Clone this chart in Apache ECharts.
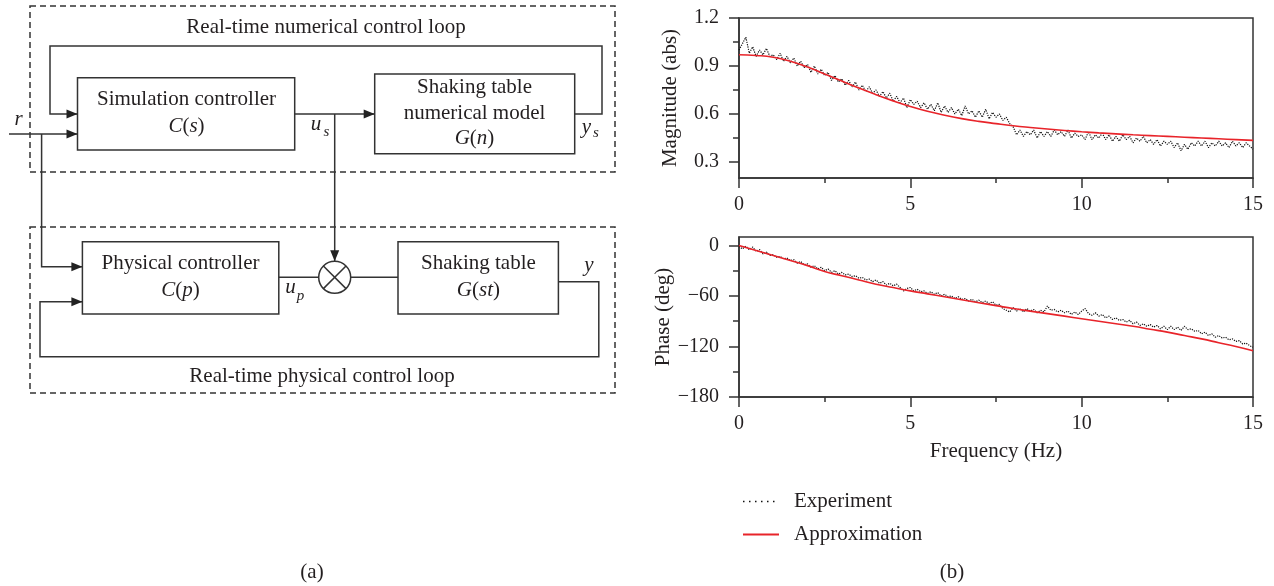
<!DOCTYPE html>
<html>
<head>
<meta charset="utf-8">
<script src="https://cdn.jsdelivr.net/npm/echarts@6/dist/echarts.min.js"></script>
<style>
html,body{margin:0;padding:0;background:#fff;}
#chart{width:1274px;height:586px;}
</style>
</head>
<body>
<div id="chart"></div>
<script>
// ---------------- DATA ----------------
const seriesNames = ['Experiment', 'Approximation'];
const xTickLabels = [0, 5, 10, 15];
const magTickLabels = [0.3, 0.6, 0.9, 1.2];
const magMinorTicks = [0.45, 0.75, 1.05];
const phaseTickLabels = [-180, -120, -60, 0];
const phaseMinorTicks = [-150, -90, -30];

// Experiment sampled every 0.1 Hz from 0 to 15 Hz
const expStep = 0.1;
const magExperiment = [
 1.00,1.04,1.08,0.98,1.02,0.96,1.00,0.97,1.01,0.96,
 0.97,0.94,0.98,0.93,0.96,0.92,0.95,0.90,0.93,0.89,
 0.91,0.86,0.90,0.85,0.88,0.84,0.86,0.81,0.84,0.80,
 0.82,0.78,0.81,0.77,0.80,0.75,0.78,0.74,0.77,0.73,
 0.75,0.71,0.74,0.70,0.73,0.68,0.71,0.67,0.70,0.64,
 0.69,0.66,0.68,0.64,0.67,0.63,0.66,0.62,0.67,0.61,
 0.65,0.61,0.64,0.60,0.63,0.59,0.65,0.60,0.62,0.58,
 0.62,0.58,0.63,0.57,0.61,0.58,0.60,0.56,0.58,0.54,
 0.52,0.47,0.50,0.46,0.49,0.47,0.50,0.45,0.49,0.46,
 0.49,0.46,0.50,0.47,0.49,0.46,0.50,0.45,0.48,0.46,
 0.47,0.44,0.49,0.44,0.47,0.45,0.48,0.44,0.47,0.43,
 0.46,0.43,0.47,0.44,0.46,0.42,0.45,0.43,0.46,0.42,
 0.44,0.41,0.44,0.40,0.43,0.41,0.43,0.39,0.42,0.37,
 0.41,0.38,0.42,0.40,0.43,0.40,0.43,0.39,0.42,0.40,
 0.43,0.40,0.42,0.39,0.43,0.40,0.42,0.39,0.42,0.40,
 0.38
];
const phaseExperiment = [
 -1,-4,-1,-5,-2,-7,-5,-10,-8,-12,
 -11,-14,-13,-16,-15,-18,-17,-21,-19,-23,
 -22,-26,-24,-28,-26,-30,-28,-32,-30,-34,
 -32,-35,-34,-37,-36,-39,-38,-41,-40,-43,
 -41,-45,-43,-47,-45,-48,-46,-50,-54,-51,
 -50,-54,-52,-55,-54,-57,-55,-58,-56,-60,
 -58,-61,-60,-63,-61,-64,-63,-66,-64,-67,
 -65,-68,-66,-69,-67,-71,-70,-75,-77,-79,
 -74,-78,-75,-79,-75,-78,-76,-80,-77,-79,
 -72,-77,-76,-79,-77,-80,-78,-82,-79,-82,
 -78,-75,-81,-83,-80,-84,-82,-86,-84,-88,
 -86,-89,-88,-91,-89,-93,-91,-95,-93,-96,
 -94,-97,-95,-99,-96,-100,-96,-100,-97,-101,
 -96,-100,-99,-102,-101,-105,-103,-107,-105,-109,
 -107,-110,-109,-112,-111,-114,-113,-117,-116,-119,
 -121
];

// Approximation sampled every 0.5 Hz from 0 to 15 Hz
const apxStep = 0.5;
const magApprox = [
 0.970,0.966,0.955,0.930,0.893,0.850,0.806,0.762,0.721,0.682,
 0.647,0.617,0.592,0.571,0.554,0.540,0.527,0.516,0.506,0.497,
 0.489,0.482,0.476,0.470,0.465,0.460,0.455,0.450,0.445,0.440,
 0.435
];
const phaseApprox = [
 0,-6,-12,-18,-24,-31,-36,-41,-46,-50,
 -54,-57.5,-61,-64.5,-68,-71.5,-75,-78,-81,-84,
 -87,-90,-93,-96,-99.5,-103,-107,-111,-115.5,-120,
 -125
];

// ---------------- BUILD ----------------
const FONT = '"Liberation Serif", "Times New Roman", serif';
const TXT = '#231f20';
const LN = '#333';
const RED = '#e8242a';

function pairs(vals, step) {
  return vals.map((v, i) => [Math.round(i * step * 10) / 10, v]);
}
const fmtMinus = v => (v < 0 ? '\u2212' + (-v) : String(v));

function xAxisCfg(grid, withName) {
  const a = {
    gridIndex: grid, type: 'value', min: 0, max: 15, interval: 5,
    axisLine: { onZero: false, lineStyle: { color: LN, width: 1.5 } },
    axisTick: { length: 10, lineStyle: { color: LN, width: 1.5 } },
    minorTick: { show: true, splitNumber: 2, length: 5, lineStyle: { color: LN, width: 1.5 } },
    axisLabel: { margin: 17, fontSize: 20, fontFamily: FONT, color: TXT,
                 formatter: v => (xTickLabels.indexOf(v) >= 0 ? String(v) : '') },
    splitLine: { show: false }, minorSplitLine: { show: false }
  };
  if (withName) {
    a.name = 'Frequency (Hz)';
    a.nameLocation = 'middle';
    a.nameGap = 44;
    a.nameTextStyle = { fontSize: 21, fontFamily: FONT, color: TXT };
  }
  return a;
}
function yMajor(grid, min, max, ticks, name, fmt) {
  return {
    gridIndex: grid, type: 'value', min: min, max: max, position: 'left',
    name: name, nameLocation: 'middle', nameGap: 58,
    nameTextStyle: { fontSize: 21, fontFamily: FONT, color: TXT },
    axisLine: { onZero: false, lineStyle: { color: LN, width: 1.5 } },
    axisTick: { show: true, length: 10, customValues: ticks, lineStyle: { color: LN, width: 1.5 } },
    axisLabel: { customValues: ticks, margin: 20, fontSize: 20, fontFamily: FONT, color: TXT, formatter: fmt },
    splitLine: { show: false }
  };
}
function yMinor(grid, min, max, ticks) {
  return {
    gridIndex: grid, type: 'value', min: min, max: max, position: 'left', offset: 0,
    axisLine: { show: false, onZero: false },
    axisTick: { show: true, length: 6, customValues: ticks, lineStyle: { color: LN, width: 1.5 } },
    axisLabel: { show: false },
    splitLine: { show: false }
  };
}

// ---------- block diagram (graphic) ----------
const G = [];
const S = { stroke: LN, lineWidth: 1.5, fill: null };
function line(x1, y1, x2, y2) { G.push({ type: 'line', shape: { x1, y1, x2, y2 }, style: S, silent: true }); }
function poly(pts) { G.push({ type: 'polyline', shape: { points: pts }, style: S, silent: true }); }
function rect(x, y, w, h, dash) {
  G.push({ type: 'rect', shape: { x, y, width: w, height: h },
    style: { stroke: LN, lineWidth: 1.5, fill: null, lineDash: dash || null }, silent: true });
}
function arrowR(x, y) {
  G.push({ type: 'polygon', shape: { points: [[x, y], [x - 11, y - 4.5], [x - 11, y + 4.5]] },
    style: { fill: '#222', stroke: null }, silent: true });
}
function arrowD(x, y) {
  G.push({ type: 'polygon', shape: { points: [[x, y], [x - 4.5, y - 11], [x + 4.5, y - 11]] },
    style: { fill: '#222', stroke: null }, silent: true });
}
function text(t, x, y, size, italic, align) {
  G.push({ type: 'text', x: x, y: y, silent: true,
    style: { text: t, fill: TXT, font: (italic ? 'italic ' : '') + size + 'px ' + FONT,
      align: align || 'center', verticalAlign: 'middle',
      textAlign: align || 'center', textVerticalAlign: 'middle' } });
}
function mathText(t, x, y) {
  G.push({ type: 'text', x: x, y: y, silent: true,
    style: { text: t, fill: TXT, font: '21px ' + FONT,
      align: 'center', verticalAlign: 'middle', textAlign: 'center', textVerticalAlign: 'middle',
      rich: { i: { fontStyle: 'italic', fontSize: 21, fontFamily: FONT, fill: TXT, color: TXT } } } });
}

// dashed loop boxes
rect(30, 6, 585, 166, [6, 4]);
rect(30, 227, 585, 166, [6, 4]);
text('Real-time numerical control loop', 326, 27, 21);
text('Real-time physical control loop', 322, 376, 21);

// upper blocks
rect(77.5, 77.7, 217.2, 72.3);
text('Simulation controller', 186.5, 99.5, 21);
mathText('{i|C}({i|s})', 186.5, 126);
rect(374.7, 74, 200, 79.7);
text('Shaking table', 474.5, 87, 21);
text('numerical model', 474.5, 113, 21);
mathText('{i|G}({i|n})', 474.5, 138.5);

// upper loop
poly([[77.5, 114], [50, 114], [50, 46], [602, 46], [602, 114], [574.7, 114]]);
arrowR(77.5, 114);
line(9, 134, 77.5, 134); arrowR(77.5, 134);
text('r', 18.5, 119, 21, true);
line(294.7, 114, 374.7, 114); arrowR(374.7, 114);
text('u', 316, 124, 21, true);
text('s', 326.5, 132, 15, true);
text('y', 586.5, 127, 21, true);
text('s', 596, 133, 15, true);
// branch down to multiplier
line(334.7, 114, 334.7, 261.3); arrowD(334.7, 261.3);
// r branch down to physical controller
poly([[41.6, 134], [41.6, 266.7], [82.4, 266.7]]); arrowR(82.4, 266.7);

// lower blocks
rect(82.4, 241.7, 196.4, 72.3);
text('Physical controller', 180.5, 263.5, 21);
mathText('{i|C}({i|p})', 180.5, 290);
rect(398, 241.7, 160.4, 72.3);
text('Shaking table', 478.4, 263.5, 21);
mathText('{i|G}({i|st})', 478.4, 290);

// multiplier
G.push({ type: 'circle', shape: { cx: 334.7, cy: 277.3, r: 16 }, style: S, silent: true });
line(334.7 - 11.3, 277.3 - 11.3, 334.7 + 11.3, 277.3 + 11.3);
line(334.7 - 11.3, 277.3 + 11.3, 334.7 + 11.3, 277.3 - 11.3);
line(278.8, 277.3, 318.7, 277.3);
line(350.7, 277.3, 398, 277.3);
text('u', 290.6, 287.5, 21, true);
text('p', 300.5, 296.5, 15, true);
text('y', 589, 265.5, 21, true);

// lower loop
poly([[558.4, 281.7], [598.8, 281.7], [598.8, 356.7], [40, 356.7], [40, 301.7], [82.4, 301.7]]);
arrowR(82.4, 301.7);

// captions
text('(a)', 312, 572, 21);
text('(b)', 952, 572, 21);

// ---------------- OPTION ----------------
const option = {
  backgroundColor: '#fff',
  animation: false,
  grid: [
    { left: 739, top: 18, width: 514, height: 160, show: true, borderColor: LN, borderWidth: 1.5, containLabel: false },
    { left: 739, top: 237, width: 514, height: 160, show: true, borderColor: LN, borderWidth: 1.5, containLabel: false }
  ],
  xAxis: [xAxisCfg(0, false), xAxisCfg(1, true)],
  yAxis: [
    yMajor(0, 0.2, 1.2, magTickLabels, 'Magnitude (abs)', v => v.toFixed(1)),
    yMinor(0, 0.2, 1.2, magMinorTicks),
    yMajor(1, -180, 10, phaseTickLabels, 'Phase (deg)', fmtMinus),
    yMinor(1, -180, 10, phaseMinorTicks)
  ],
  legend: {
    data: [
      { name: seriesNames[0], lineStyle: { type: [1.5, 4.5], width: 1.3, color: '#111' } },
      { name: seriesNames[1] }
    ],
    orient: 'vertical', left: 737, top: 486,
    itemWidth: 36, itemHeight: 14, itemGap: 12,
    itemStyle: { opacity: 0 },
    textStyle: { fontSize: 21, fontFamily: FONT, color: TXT, padding: [0, 0, 0, 10] }
  },
  series: [
    { name: seriesNames[0], type: 'line', xAxisIndex: 0, yAxisIndex: 0, symbol: 'none',
      data: pairs(magExperiment, expStep), lineStyle: { type: 'dotted', width: 1.2, color: '#111' }, itemStyle: { color: '#111' } },
    { name: seriesNames[0], type: 'line', xAxisIndex: 1, yAxisIndex: 2, symbol: 'none',
      data: pairs(phaseExperiment, expStep), lineStyle: { type: 'dotted', width: 1.2, color: '#111' }, itemStyle: { color: '#111' } },
    { name: seriesNames[1], type: 'line', xAxisIndex: 0, yAxisIndex: 0, symbol: 'none', smooth: true,
      data: pairs(magApprox, apxStep), lineStyle: { width: 1.6, color: RED }, itemStyle: { color: RED } },
    { name: seriesNames[1], type: 'line', xAxisIndex: 1, yAxisIndex: 2, symbol: 'none', smooth: true,
      data: pairs(phaseApprox, apxStep), lineStyle: { width: 1.6, color: RED }, itemStyle: { color: RED } }
  ],
  graphic: { elements: G }
};

const chart = echarts.init(document.getElementById('chart'), null, { renderer: 'canvas' });
chart.setOption(option);
</script>
</body>
</html>
